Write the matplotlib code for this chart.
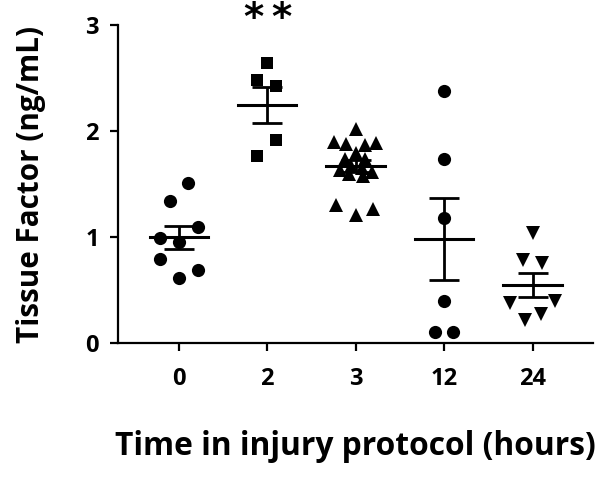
import matplotlib
matplotlib.use("Agg")
import matplotlib.pyplot as plt
import numpy as np

categories = ["0", "2", "3", "12", "24"]

vals_0h = [1.51, 1.34, 1.10, 0.99, 0.96, 0.80, 0.69, 0.62]
jit_0h = [0.11, -0.10, 0.22, -0.21, 0.0, -0.21, 0.22, 0.0]

vals_2h = [2.64, 2.48, 2.43, 1.92, 1.77]
jit_2h = [0.0, -0.11, 0.10, 0.10, -0.11]

vals_3h = [2.02, 1.90, 1.88, 1.87, 1.89, 1.79, 1.74, 1.74, 1.67, 1.65, 1.63,
           1.62, 1.60, 1.58, 1.30, 1.21, 1.27]
jit_3h = [0.0, -0.24, -0.11, 0.11, 0.23, 0.0, -0.12, 0.10, -0.05, 0.07, -0.18,
          0.18, -0.08, 0.08, -0.22, 0.0, 0.20]

vals_12h = [2.38, 1.74, 1.18, 0.40, 0.105, 0.105]
jit_12h = [0.0, 0.0, 0.0, 0.0, -0.10, 0.10]

vals_24h = [1.04, 0.785, 0.76, 0.38, 0.40, 0.275, 0.22]
jit_24h = [0.0, -0.11, 0.11, -0.26, 0.25, 0.09, -0.09]

groups = [vals_0h, vals_2h, vals_3h, vals_12h, vals_24h]
jitters = [jit_0h, jit_2h, jit_3h, jit_12h, jit_24h]
markers = ["o", "s", "^", "o", "v"]
msizes = [9.5, 8.8, 9.5, 9.5, 9.5]

yticks = [0, 1, 2, 3]

font = "Open Sans"
fig = plt.figure(figsize=(6.0, 4.78), dpi=100)
ax = fig.add_axes([0.197, 0.2814, 0.791, 0.6663])

for i, (v, j, m, ms) in enumerate(zip(groups, jitters, markers, msizes)):
    v = np.array(v)
    x = i + np.array(j)
    ax.plot(x, v, linestyle="none", marker=m, markersize=ms, color="black",
            markeredgewidth=0, clip_on=False, zorder=3)
    mean = v.mean()
    sem = v.std(ddof=1) / np.sqrt(len(v))
    ax.plot([i - 0.33, i + 0.33], [mean, mean], color="black", lw=2.2, zorder=4)
    ax.errorbar([i], [mean], yerr=[sem], color="black", lw=2.0, capsize=11,
                capthick=2.0, zorder=4)

for dx in (-0.155, 0.155):
    ax.text(1 + dx, 3.06, "*", ha="center", va="center", fontsize=28,
            fontweight="bold", family="DejaVu Sans", clip_on=False)

ax.set_xlim(-0.684, 4.68)
ax.set_ylim(0, 3)
ax.set_xticks(range(len(categories)))
ax.set_xticklabels(categories)
ax.set_yticks(yticks)
ax.set_yticklabels([str(t) for t in yticks])
for s in ["top", "right"]:
    ax.spines[s].set_visible(False)
for s in ["left", "bottom"]:
    ax.spines[s].set_linewidth(1.6)
ax.tick_params(axis="both", direction="out", length=6, width=1.6,
               labelsize=17)
ax.tick_params(axis="x", pad=11)
ax.tick_params(axis="y", pad=8)
for lab in ax.get_xticklabels() + ax.get_yticklabels():
    lab.set_family(font)
    lab.set_fontweight("bold")

ax.set_ylabel("Tissue Factor (ng/mL)", fontsize=21.3, family=font,
              fontweight="bold", labelpad=28)
ax.set_xlabel("Time in injury protocol (hours)", fontsize=22.9, family=font,
              fontweight="bold", labelpad=28)

fig.savefig("out.png", dpi=100)
